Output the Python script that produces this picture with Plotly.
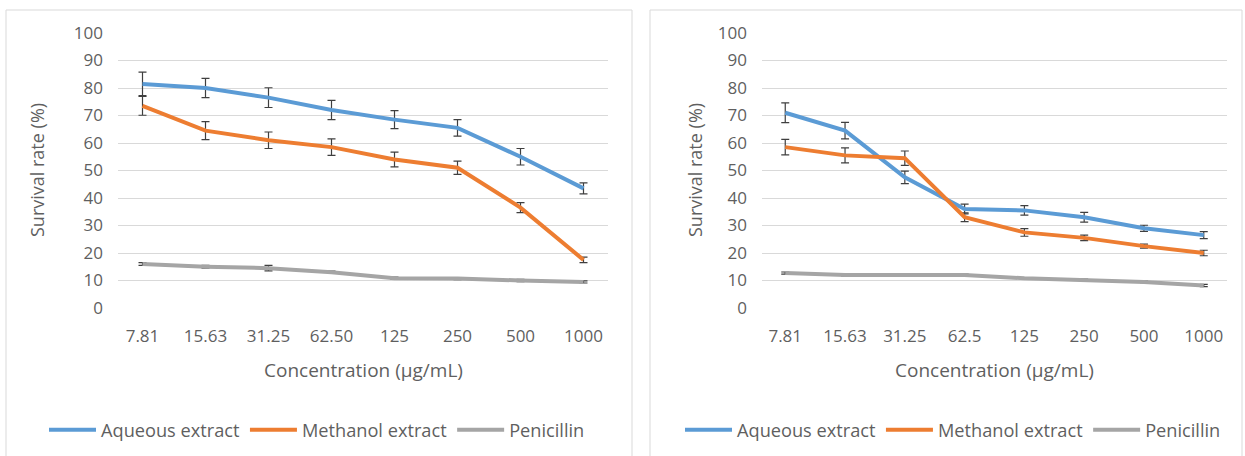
import plotly.graph_objects as go

# ---- data ----
categories_left = ["7.81", "15.63", "31.25", "62.50", "125", "250", "500", "1000"]
categories_right = ["7.81", "15.63", "31.25", "62.5", "125", "250", "500", "1000"]

left_aqueous = [81.5, 80, 76.5, 72, 68.5, 65.5, 55, 43.5]
left_aqueous_err = [4.3, 3.5, 3.6, 3.5, 3.3, 3.0, 3.0, 2.0]
left_methanol = [73.5, 64.5, 61, 58.5, 54, 51, 36.5, 17.5]
left_methanol_err = [3.4, 3.3, 3.0, 3.0, 2.7, 2.4, 1.8, 1.0]
left_penicillin = [16, 15, 14.5, 13, 10.8, 10.7, 10, 9.5]
left_penicillin_err = [0.5, 0.5, 1.0, 0.4, 0.4, 0.4, 0.4, 0.4]

right_aqueous = [71, 64.5, 47.5, 36, 35.5, 33, 29, 26.5]
right_aqueous_err = [3.6, 3.0, 2.3, 1.8, 1.7, 1.8, 1.1, 1.3]
right_methanol = [58.5, 55.5, 54.5, 33, 27.5, 25.5, 22.5, 20]
right_methanol_err = [2.8, 2.7, 2.6, 1.6, 1.4, 1.0, 0.7, 1.0]
right_penicillin = [12.7, 12, 12, 12, 10.8, 10.2, 9.5, 8.2]
right_penicillin_err = [0.4, 0.3, 0.3, 0.3, 0.3, 0.3, 0.3, 0.4]

series_names = ["Aqueous extract", "Methanol extract", "Penicillin"]
colors = ["#5B9BD5", "#ED7D31", "#A5A5A5"]

FONT = "Open Sans"
TXT = "#5F5F5F"
W, H = 1245, 456

fig = go.Figure()

def add_panel(cats, vals, errs, xa, ya, legend):
    for name, v, e, c in zip(series_names, vals, errs, colors):
        fig.add_trace(go.Scatter(
            x=cats, y=v, name=name, mode="lines",
            line=dict(color=c, width=4),
            error_y=dict(type="data", array=e, visible=True,
                         color="#3F3F3F", thickness=1.2, width=4),
            xaxis=xa, yaxis=ya, legend=legend, showlegend=True,
        ))

add_panel(categories_left, [left_aqueous, left_methanol, left_penicillin],
          [left_aqueous_err, left_methanol_err, left_penicillin_err], "x", "y", "legend")
add_panel(categories_right, [right_aqueous, right_methanol, right_penicillin],
          [right_aqueous_err, right_methanol_err, right_penicillin_err], "x2", "y2", "legend2")

ybot = (H - 308) / H
ytop = (H - 33) / H

axis_common = dict(showline=False, zeroline=False, ticks="", automargin=False,
                   tickfont=dict(family=FONT, size=17, color=TXT))

leg_common = dict(orientation="h", xref="container", yref="container",
                  xanchor="left", yanchor="middle", y=(H - 430) / H,
                  font=dict(family=FONT, size=18.2, color=TXT),
                  bgcolor="rgba(0,0,0,0)", itemwidth=47, tracegroupgap=0)

fig.update_layout(
    width=W, height=H,
    margin=dict(l=0, r=0, t=0, b=0, autoexpand=False),
    paper_bgcolor="white", plot_bgcolor="white",
    font=dict(family=FONT, color=TXT),
    xaxis=dict(domain=[118 / W, 608 / W], type="category", showgrid=False,
               ticklabelstandoff=16, anchor="y", **axis_common),
    yaxis=dict(domain=[ybot, ytop], range=[0, 100], dtick=10, showgrid=True,
               gridcolor="#D9D9D9", gridwidth=1, ticklabelstandoff=14, anchor="x",
               **axis_common),
    xaxis2=dict(domain=[762 / W, 1227 / W], type="category", showgrid=False,
                ticklabelstandoff=16, anchor="y2", **axis_common),
    yaxis2=dict(domain=[ybot, ytop], range=[0, 100], dtick=10, showgrid=True,
                gridcolor="#D9D9D9", gridwidth=1, ticklabelstandoff=14, anchor="x2",
                **axis_common),
    legend=dict(x=44 / W, **leg_common),
    legend2=dict(x=680 / W, **leg_common),
    showlegend=True,
)

# axis titles
for xc in [(118 + 608) / 2, (762 + 1227) / 2]:
    fig.add_annotation(x=xc / W, y=(H - 370) / H, xref="paper", yref="paper",
                       xanchor="center", yanchor="middle",
                       text="Concentration (µg/mL)", showarrow=False,
                       font=dict(family=FONT, size=19, color=TXT))
for xc in [37, 695]:
    fig.add_annotation(x=xc / W, y=(H - 170) / H, xref="paper", yref="paper",
                       xanchor="center", yanchor="middle",
                       text="Survival rate (%)", showarrow=False, textangle=-90,
                       font=dict(family=FONT, size=18, color=TXT))

# panel borders
for x0, x1 in [(6, 632), (650, 1242)]:
    fig.add_shape(type="rect", xref="paper", yref="paper",
                  x0=x0 / W, x1=x1 / W, y0=-0.02, y1=(H - 10) / H,
                  line=dict(color="#D9D9D9", width=1), fillcolor="rgba(0,0,0,0)",
                  layer="below")

fig.write_html("out.html", config={"displayModeBar": False},
               post_script="document.body.style.margin='0';document.body.style.padding='0';")
